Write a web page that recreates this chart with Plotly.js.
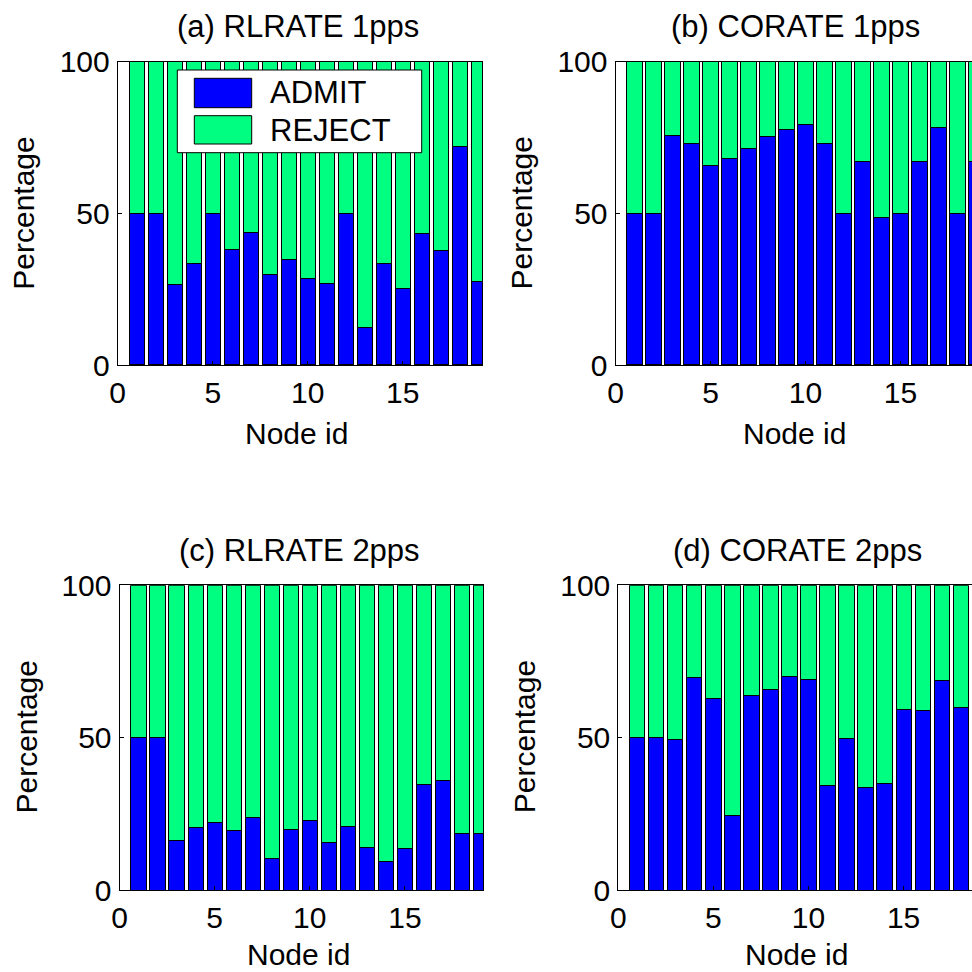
<!DOCTYPE html>
<html>
<head>
<meta charset="utf-8">
<script src="https://cdn.plot.ly/plotly-3.0.1.min.js"></script>
<style>
html,body{margin:0;padding:0;overflow:hidden;background:#fff;}
#chart{width:990px;height:972px;}
</style>
</head>
<body>
<div id="chart"></div>
<script>
// ---- data ----
const nodesAll = [1,2,3,4,5,6,7,8,9,10,11,12,13,14,15,16,17,18,19];
const nodesD   = [1,2,3,4,5,6,7,8,9,10,11,12,13,14,15,16,17,18];

const admitA  = [50,50,26.6,33.4,50,38.2,43.6,29.9,34.8,28.5,27.0,50,12.5,33.4,25.2,43.3,37.8,72.0,27.6];
const rejectA = [50,50,73.4,66.6,50,61.8,56.4,70.1,65.2,71.5,73.0,50,87.5,66.6,74.8,56.7,62.2,28.0,72.4];

const admitB  = [50,50,75.8,73.0,65.7,68.1,71.5,75.4,77.8,79.2,73.0,50,67.0,48.6,50,67.0,78.2,50,67.0];
const rejectB = [50,50,24.2,27.0,34.3,31.9,28.5,24.6,22.2,20.8,27.0,50,33.0,51.4,50,33.0,21.8,50,33.0];

const admitC  = [50,50,16.1,20.4,22.3,19.5,23.9,10.2,20.0,22.9,15.7,20.9,14.1,9.3,13.7,34.6,36.0,18.6,18.6];
const rejectC = [50,50,83.9,79.6,77.7,80.5,76.1,89.8,80.0,77.1,84.3,79.1,85.9,90.7,86.3,65.4,64.0,81.4,81.4];

const admitD  = [50,50,49.3,69.7,62.9,24.4,63.7,65.7,70.0,69.1,34.2,49.7,33.6,35.0,59.4,58.9,68.6,59.9];
const rejectD = [50,50,50.7,30.3,37.1,75.6,36.3,34.3,30.0,30.9,65.8,50.3,66.4,65.0,40.6,41.1,31.4,40.1];

const panelTitles = ["(a) RLRATE 1pps","(b) CORATE 1pps","(c) RLRATE 2pps","(d) CORATE 2pps"];
const seriesNames = ["ADMIT","REJECT"];
const xTicks = [0,5,10,15];
const yTicks = [0,50,100];
const xLabel = "Node id";
const yLabel = "Percentage";

// ---- styling ----
const BLUE = "#0000FF", GREEN = "#00FF80";
const FONT = "Liberation Sans, Arial, Helvetica, sans-serif";
const FS = 30;
const W = 990, H = 972;
const px = v => v / W;
const py = v => 1 - v / H;

function barTrace(x, y, name, color, ax) {
  return {
    type: "bar", x: x, y: y, name: name, width: 0.8,
    marker: {color: color, line: {color: "#000", width: 1}},
    xaxis: "x" + ax, yaxis: "y" + ax, showlegend: false, hoverinfo: "skip"
  };
}

const data = [
  barTrace(nodesAll, admitA, seriesNames[0], BLUE, ""),
  barTrace(nodesAll, rejectA, seriesNames[1], GREEN, ""),
  barTrace(nodesAll, admitB, seriesNames[0], BLUE, "2"),
  barTrace(nodesAll, rejectB, seriesNames[1], GREEN, "2"),
  barTrace(nodesAll, admitC, seriesNames[0], BLUE, "3"),
  barTrace(nodesAll, rejectC, seriesNames[1], GREEN, "3"),
  barTrace(nodesD, admitD, seriesNames[0], BLUE, "4"),
  barTrace(nodesD, rejectD, seriesNames[1], GREEN, "4")
];

// panel boxes in pixels: [left, right, top, bottom, xmax]
const panels = [
  [117.7, 482.0, 61.7, 365.0, 19.17],
  [615.5, 979.8, 61.7, 365.0, 19.17],
  [119.5, 483.0, 585.3, 890.0, 19.10],
  [618.3, 981.6, 585.3, 890.0, 19.10]
];

function xAxis(p, anchor) {
  return {
    domain: [px(p[0]), px(p[1])], range: [0, p[4]], anchor: anchor,
    tickvals: xTicks, ticks: "inside", ticklen: 4, tickcolor: "#000",
    showline: true, mirror: true, linecolor: "#000", linewidth: 1,
    showgrid: false, zeroline: false, fixedrange: true,
    tickfont: {family: FONT, size: FS, color: "#000"}, ticklabelstandoff: 1
  };
}
function yAxis(p, anchor) {
  return {
    domain: [py(p[3]), py(p[2])], range: [0, 100], anchor: anchor,
    tickvals: yTicks, ticks: "inside", ticklen: 4, tickcolor: "#000",
    showline: true, mirror: true, linecolor: "#000", linewidth: 1,
    showgrid: false, zeroline: false, fixedrange: true,
    tickfont: {family: FONT, size: FS, color: "#000"}, ticklabelstandoff: 1
  };
}

const annotations = [];
const axisTitleY = [[433, 213], [433, 213], [954, 737], [954, 737]];
panels.forEach((p, i) => {
  const cx = (p[0] + p[1]) / 2;
  annotations.push({xref: "paper", yref: "paper", x: px(cx - 2), y: py(p[2] - 35),
    text: panelTitles[i], showarrow: false, xanchor: "center", yanchor: "middle",
    font: {family: FONT, size: 31, color: "#000"}});
  annotations.push({xref: "paper", yref: "paper", x: px(cx - 3), y: py(axisTitleY[i][0]),
    text: xLabel, showarrow: false, xanchor: "center", yanchor: "middle", borderpad: 0,
    font: {family: FONT, size: FS, color: "#000"}});
  annotations.push({xref: "paper", yref: "paper", x: px(p[0] - 94), y: py(axisTitleY[i][1]),
    text: yLabel, showarrow: false, textangle: -90, xanchor: "center", yanchor: "middle",
    font: {family: FONT, size: FS, color: "#000"}});
});

// custom legend in panel (a)
const shapes = [
  {type: "rect", xref: "paper", yref: "paper", x0: px(177.3), x1: px(421.7), y0: py(152.7), y1: py(70),
   fillcolor: "#fff", line: {color: "#000", width: 1}, layer: "above"},
  {type: "rect", xref: "paper", yref: "paper", x0: px(194.3), x1: px(251.7), y0: py(107.7), y1: py(78.3),
   fillcolor: BLUE, line: {color: "#000", width: 1}, layer: "above"},
  {type: "rect", xref: "paper", yref: "paper", x0: px(194.3), x1: px(251.7), y0: py(144), y1: py(115.7),
   fillcolor: GREEN, line: {color: "#000", width: 1}, layer: "above"}
];
annotations.push({xref: "paper", yref: "paper", x: px(268), y: py(93), text: seriesNames[0],
  showarrow: false, xanchor: "left", yanchor: "middle", font: {family: FONT, size: 31, color: "#000"}});
annotations.push({xref: "paper", yref: "paper", x: px(268), y: py(131), text: seriesNames[1],
  showarrow: false, xanchor: "left", yanchor: "middle", font: {family: FONT, size: 31, color: "#000"}});

const layout = {
  width: W, height: H, margin: {l: 0, r: 0, t: 0, b: 0},
  paper_bgcolor: "#fff", plot_bgcolor: "#fff",
  barmode: "stack", showlegend: false,
  font: {family: FONT, size: FS, color: "#000"},
  xaxis: xAxis(panels[0], "y"), yaxis: yAxis(panels[0], "x"),
  xaxis2: xAxis(panels[1], "y2"), yaxis2: yAxis(panels[1], "x2"),
  xaxis3: xAxis(panels[2], "y3"), yaxis3: yAxis(panels[2], "x3"),
  xaxis4: xAxis(panels[3], "y4"), yaxis4: yAxis(panels[3], "x4"),
  annotations: annotations, shapes: shapes
};

Plotly.newPlot("chart", data, layout, {displayModeBar: false, staticPlot: true});
</script>
</body>
</html>
